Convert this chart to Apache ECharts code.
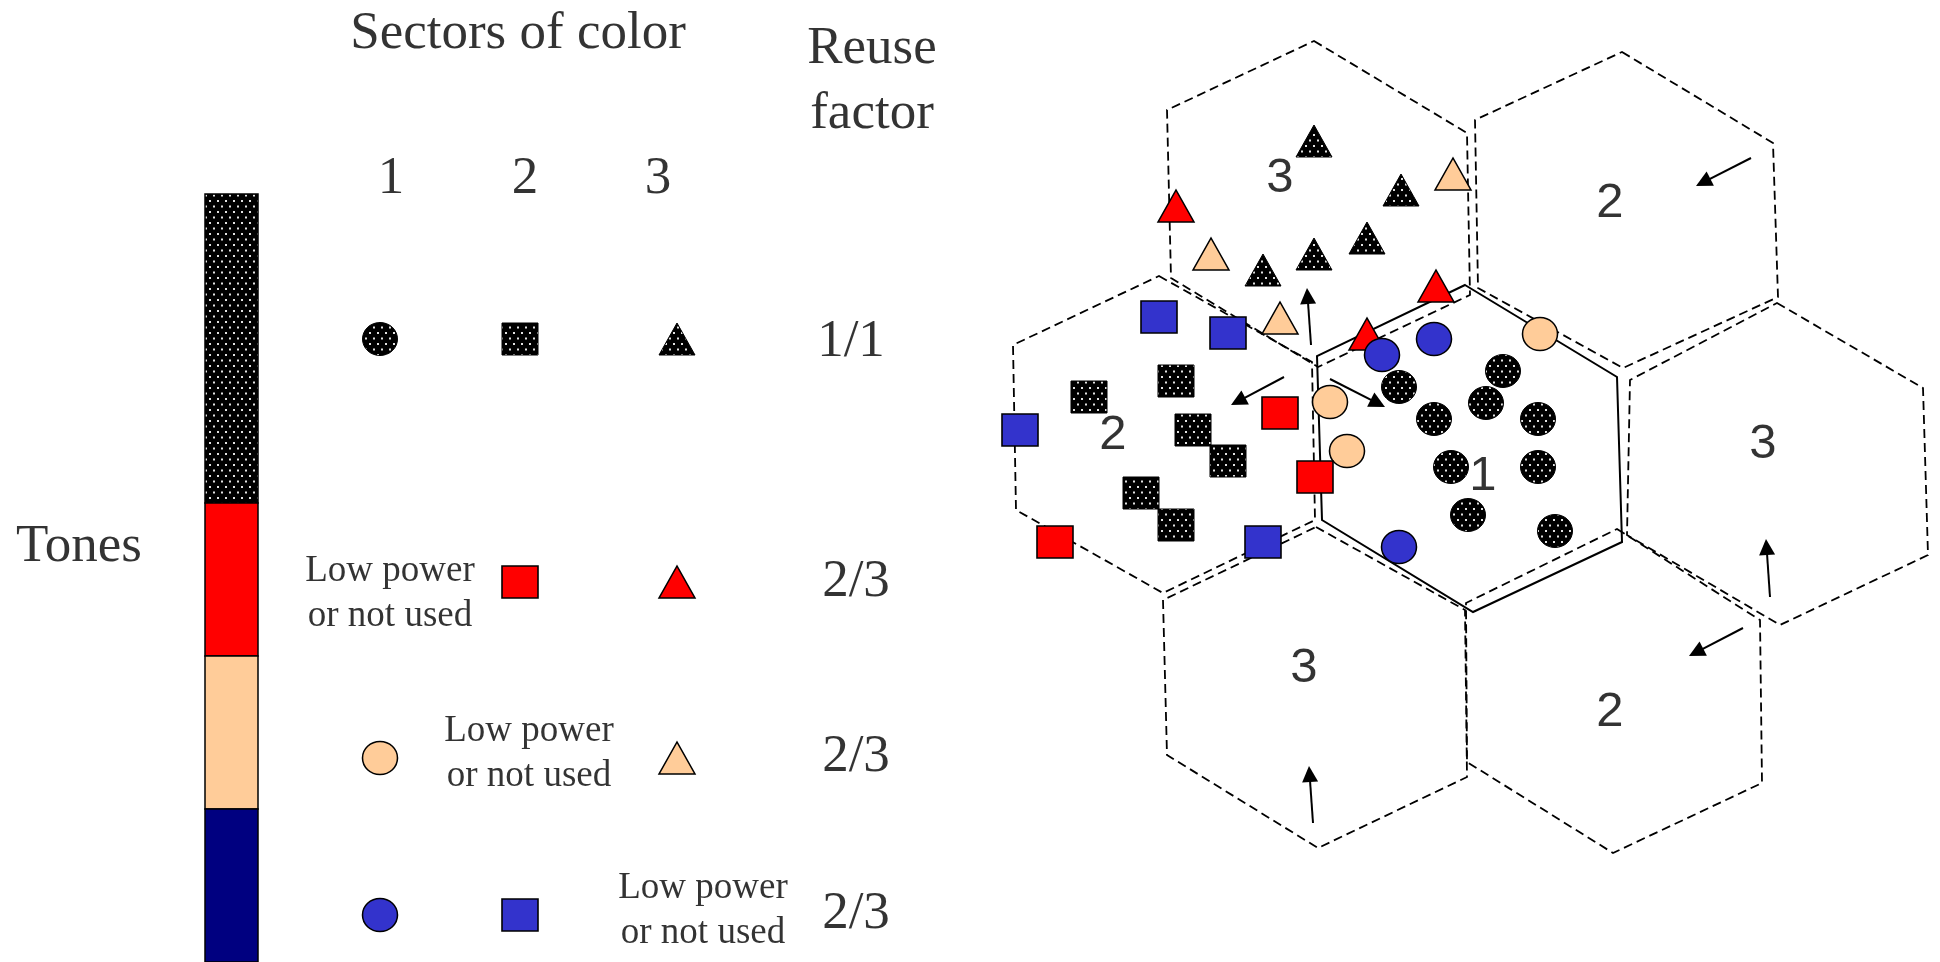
<!DOCTYPE html>
<html>
<head>
<meta charset="utf-8">
<script src="https://cdn.jsdelivr.net/npm/echarts/dist/echarts.min.js"></script>
<style>
html,body{margin:0;padding:0;background:#ffffff;}
#main{width:1940px;height:962px;}
</style>
</head>
<body>
<div id="main"></div>
<script>
// ---------------- DATA ----------------
// Tone bar segments (top, bottom) and their tone names
const toneTops    = [194, 503, 656, 809];
const toneBottoms = [503, 656, 809, 962];
const toneNames   = ['dotted', 'red', 'peach', 'navy'];

// Legend symbols (x, y)
const legendDottedCircle   = [[380, 339]];
const legendDottedSquare   = [[520, 339]];
const legendDottedTriangle = [[677, 339]];
const legendRedSquare      = [[520, 582]];
const legendRedTriangle    = [[677, 582]];
const legendPeachCircle    = [[380, 758]];
const legendPeachTriangle  = [[677, 758]];
const legendBlueCircle     = [[380, 915]];
const legendBlueSquare     = [[520, 915]];

// Hexagon cells: vertices top, upper-right, lower-right, bottom, lower-left, upper-left
const hexCenter     = [[1465,285],[1617,377],[1622,542],[1473,612],[1322,520],[1317,356]];
const hexUpperLeft  = [[1314,41],[1467,133],[1470,295],[1318,367],[1171,278],[1167,110]];
const hexUpperRight = [[1622,52],[1773,143],[1778,297],[1623,368],[1478,288],[1475,120]];
const hexRight      = [[1777,303],[1923,388],[1928,555],[1780,625],[1627,535],[1630,380]];
const hexLowerRight = [[1617,529],[1760,620],[1762,783],[1613,853],[1467,762],[1466,603]];
const hexLowerLeft  = [[1316,527],[1465,610],[1467,777],[1318,848],[1167,755],[1163,600]];
const hexLeft       = [[1159,276],[1312,362],[1315,520],[1163,593],[1016,510],[1013,345]];

// Users in the cells
const dottedTriangles = [[1314,141],[1401,190],[1367,238],[1314,254],[1263,270]];
const peachTriangles  = [[1453,174],[1211,254],[1280,318]];
const redTriangles    = [[1176,206],[1436,286],[1367,334]];
const blueCircles     = [[1382,355],[1434,339],[1399,547]];
const peachCircles    = [[1540,334],[1330,402],[1347,451]];
const dottedCircles   = [[1399,387],[1503,371],[1434,419],[1486,403],[1538,419],[1451,467],[1538,467],[1468,515],[1555,531]];
const blueSquares     = [[1159,317],[1228,333],[1020,430],[1263,542]];
const redSquares      = [[1280,413],[1315,477],[1055,542]];
const dottedSquares   = [[1176,381],[1089,397],[1193,430],[1228,461],[1141,493],[1176,525]];

// Arrows: tail -> tip
const arrows = [
  [[1311,345],[1307,288]],
  [[1284,377],[1231,405]],
  [[1330,379],[1385,407]],
  [[1751,158],[1696,186]],
  [[1770,597],[1766,539]],
  [[1743,628],[1689,656]],
  [[1313,823],[1309,766]]
];

// Texts [text, x, y]
const headerTexts = [
  ['Sectors of color', 518, 34],
  ['Reuse', 872, 49],
  ['factor', 872, 114],
  ['1', 391, 179], ['2', 525, 179], ['3', 658, 179],
  ['1/1', 851, 342],
  ['Tones', 79, 547],
  ['2/3', 856, 582],
  ['2/3', 856, 757],
  ['2/3', 856, 914]
];
const noteTexts = [
  ['Low power\nor not used', 390, 594],
  ['Low power\nor not used', 529, 754],
  ['Low power\nor not used', 703, 911]
];
const cellLabels = [
  ['3', 1280, 178], ['2', 1113, 435], ['1', 1483, 476], ['2', 1610, 203],
  ['3', 1763, 444], ['3', 1304, 668], ['2', 1610, 712]
];

// ---------------- RENDER ----------------
const W = 1940, H = 962;
const chart = echarts.init(document.getElementById('main'), null, {renderer: 'canvas', width: W, height: H});

function dotCanvas() {
  const c = document.createElement('canvas');
  c.width = 8; c.height = 11;
  const g = c.getContext('2d');
  g.fillStyle = '#000000';
  g.fillRect(0, 0, 8, 11);
  g.fillStyle = '#e2e2e2';
  g.fillRect(1, 2, 2, 2);
  g.fillRect(5, 7.5, 2, 2);
  return c;
}
const DOTS = {image: dotCanvas(), repeat: 'repeat'};
const TONE_FILL = {dotted: DOTS, red: '#ff0000', peach: '#ffcc99', navy: '#000080'};
const ELLIPSE = 'path://M0,50A50,50 0 1,0 100,50A50,50 0 1,0 0,50Z';

const BAR_L = 205, BAR_R = 258;

function markerSeries(symbol, size, data, fill, border) {
  return {
    type: 'scatter', symbol: symbol, symbolSize: size, z: 5,
    data: data.map(p => ({value: p})),
    itemStyle: {color: fill, borderColor: '#000', borderWidth: border, opacity: 1},
    silent: true, animation: false, emphasis: {disabled: true}
  };
}
// dotted (pattern-filled) symbols drawn at true pixel size so the texture is not scaled
function dottedSeries(kind, data, w, h) {
  return {
    type: 'custom', z: 5, silent: true,
    data: data,
    renderItem: function (params, api) {
      const c = api.coord([api.value(0), api.value(1)]);
      const x = c[0], y = c[1], rx = w / 2, ry = h / 2;
      let el;
      if (kind === 'triangle') {
        el = {type: 'polygon', shape: {points: [[x, y - ry], [x + rx, y + ry], [x - rx, y + ry]]}};
      } else if (kind === 'rect') {
        el = {type: 'rect', shape: {x: x - rx, y: y - ry, width: w, height: h}};
      } else {
        el = {type: 'path', shape: {pathData:
          'M' + (x - rx) + ',' + y + 'A' + rx + ',' + ry + ' 0 1,0 ' + (x + rx) + ',' + y +
          'A' + rx + ',' + ry + ' 0 1,0 ' + (x - rx) + ',' + y + 'Z'}};
      }
      el.style = {fill: DOTS, stroke: '#000', lineWidth: 1};
      return el;
    }
  };
}
function textSeries(items, family, size, lineHeight) {
  return {
    type: 'scatter', symbol: 'rect', symbolSize: 1, z: 7,
    itemStyle: {color: 'rgba(0,0,0,0)'},
    data: items.map(t => ({name: t[0], value: [t[1], t[2]]})),
    label: {show: true, position: 'inside', formatter: '{b}', color: '#000',
            fontFamily: family, fontSize: size, lineHeight: lineHeight,
            align: 'center', verticalAlign: 'middle'},
    silent: true, animation: false, emphasis: {disabled: true}
  };
}
function shorten(a, d) {
  const dx = a[1][0] - a[0][0], dy = a[1][1] - a[0][1];
  const L = Math.sqrt(dx * dx + dy * dy);
  return [a[0], [a[1][0] - dx / L * d, a[1][1] - dy / L * d]];
}

const hexes = [hexUpperLeft, hexUpperRight, hexRight, hexLowerRight, hexLowerLeft, hexLeft, hexCenter];
const hexSolid = [false, false, false, false, false, false, true];

const option = {
  backgroundColor: '#ffffff',
  animation: false,
  grid: {left: 0, right: 0, top: 0, bottom: 0},
  xAxis: {type: 'value', min: 0, max: W, show: false},
  yAxis: {type: 'value', min: 0, max: H, inverse: true, show: false},
  series: [
    {
      type: 'custom', z: 1, silent: true,
      data: toneTops.map((t, i) => [(BAR_L + BAR_R) / 2, (t + toneBottoms[i]) / 2]),
      renderItem: function (params, api) {
        const i = params.dataIndex;
        const p0 = api.coord([BAR_L, toneTops[i]]);
        const p1 = api.coord([BAR_R, toneBottoms[i]]);
        return {
          type: 'rect',
          shape: {x: p0[0], y: p0[1], width: p1[0] - p0[0], height: p1[1] - p0[1]},
          style: {fill: TONE_FILL[toneNames[i]], stroke: '#000', lineWidth: 1.5}
        };
      }
    },
    {
      type: 'custom', z: 2, silent: true,
      data: hexes.map(h => [h.reduce((s, p) => s + p[0], 0) / 6, h.reduce((s, p) => s + p[1], 0) / 6]),
      renderItem: function (params, api) {
        const i = params.dataIndex;
        const points = hexes[i].map(p => api.coord(p));
        return {
          type: 'polygon',
          shape: {points: points},
          style: hexSolid[i]
            ? {fill: 'none', stroke: '#000', lineWidth: 2}
            : {fill: 'none', stroke: '#000', lineWidth: 1.8, lineDash: [9, 5]}
        };
      }
    },
    dottedSeries('triangle', dottedTriangles.concat(legendDottedTriangle), 36, 32),
    markerSeries('triangle', [36, 32], peachTriangles.concat(legendPeachTriangle), '#ffcc99', 1.5),
    markerSeries('triangle', [36, 32], redTriangles.concat(legendRedTriangle), '#ff0000', 1.5),
    dottedSeries('ellipse', dottedCircles.concat(legendDottedCircle), 35, 33),
    markerSeries(ELLIPSE, [35, 33], blueCircles.concat(legendBlueCircle), '#3333cc', 1.5),
    markerSeries(ELLIPSE, [35, 33], peachCircles.concat(legendPeachCircle), '#ffcc99', 1.5),
    dottedSeries('rect', dottedSquares.concat(legendDottedSquare), 36, 32),
    markerSeries('rect', [36, 32], blueSquares.concat(legendBlueSquare), '#3333cc', 1.5),
    markerSeries('rect', [36, 32], redSquares.concat(legendRedSquare), '#ff0000', 1.5),
    {
      type: 'lines', coordinateSystem: 'cartesian2d', z: 6, silent: true,
      symbol: ['none', 'triangle'], symbolSize: [15, 16],
      lineStyle: {color: '#000', width: 2, opacity: 1},
      data: arrows.map(a => ({coords: shorten(a, 8)}))
    },
    textSeries(headerTexts, '"Liberation Serif", "Times New Roman", serif', 53, 60),
    textSeries(noteTexts, '"Liberation Serif", "Times New Roman", serif', 37, 45),
    textSeries(cellLabels, '"Liberation Sans", Arial, sans-serif', 49, 56)
  ]
};
chart.setOption(option);
</script>
</body>
</html>
